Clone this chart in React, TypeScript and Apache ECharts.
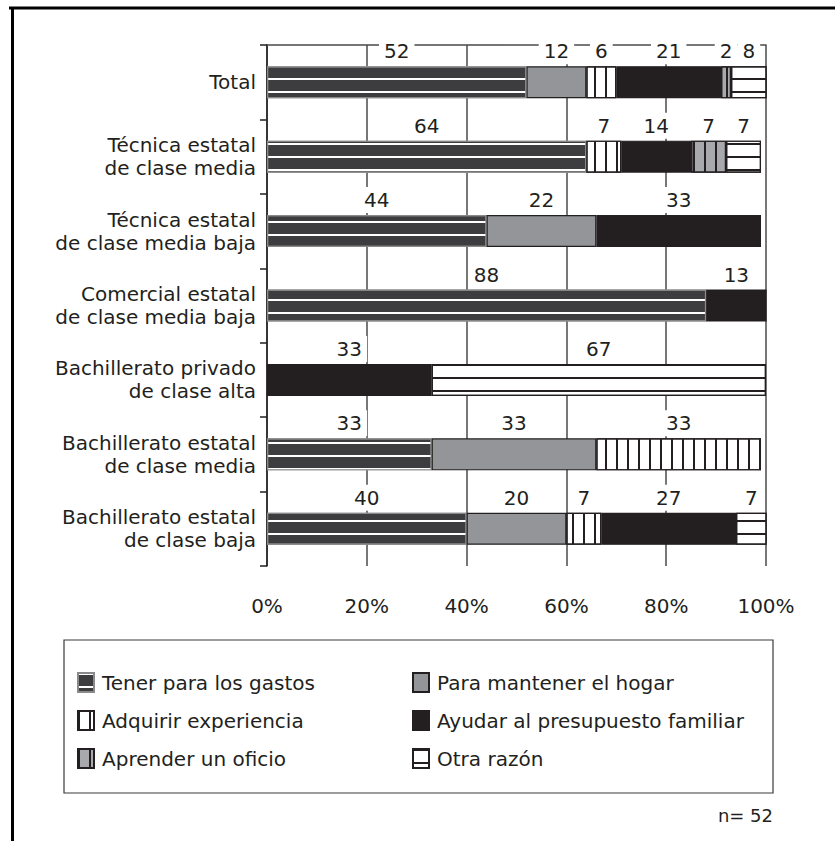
import React, { useEffect, useRef } from "react";
import * as echarts from "echarts";

// Categories (top to bottom)
const categories = [
  "Total",
  "Técnica estatal\nde clase media",
  "Técnica estatal\nde clase media baja",
  "Comercial estatal\nde clase media baja",
  "Bachillerato privado\nde clase alta",
  "Bachillerato estatal\nde clase media",
  "Bachillerato estatal\nde clase baja",
];

// Percentages per reason (null = not reported)
const tener = [52, 64, 44, 88, null, 33, 40];
const mantener = [12, null, 22, null, null, 33, 20];
const adquirir = [6, 7, null, null, null, 33, 7];
const ayudar = [21, 14, 33, 13, 33, null, 27];
const aprender = [2, 7, null, null, null, null, null];
const otra = [8, 7, null, null, 67, null, 7];

const seriesNames = [
  "Tener para los gastos",
  "Para mantener el hogar",
  "Adquirir experiencia",
  "Ayudar al presupuesto familiar",
  "Aprender un oficio",
  "Otra razón",
];

const xTicks = [0, 20, 40, 60, 80, 100];
const sampleSize = "n= 52";

const INK = "#231f20";
const FONT = "'DejaVu Sans', 'Liberation Sans', Arial, sans-serif";
const FS = 20;

const hLines = (color: string) => ({
  symbol: "rect",
  symbolSize: 1,
  dashArrayX: [10, 0],
  dashArrayY: [2, 11],
  color,
  rotation: 0,
});

const vLines = (color: string) => ({
  symbol: "rect",
  symbolSize: 1,
  dashArrayX: [2, 9],
  dashArrayY: [10, 0],
  color,
  rotation: 0,
});

const styles = [
  { color: "#3d3d3f", borderColor: "#8a8a8a", borderWidth: 1.2, decal: hLines("#ffffff") },
  { color: "#939598", borderColor: INK, borderWidth: 1.2 },
  { color: "#ffffff", borderColor: INK, borderWidth: 1.2, decal: vLines(INK) },
  { color: INK, borderColor: INK, borderWidth: 1.2 },
  { color: "#a7a9ac", borderColor: INK, borderWidth: 1.2, decal: vLines(INK) },
  { color: "#ffffff", borderColor: INK, borderWidth: 1.2, decal: hLines(INK) },
];

const values = [tener, mantener, adquirir, ayudar, aprender, otra];

const legendBase = {
  orient: "vertical",
  top: 672,
  padding: 0,
  icon: "rect",
  itemWidth: 16,
  itemHeight: 19,
  itemGap: 17,
  selectedMode: false,
  textStyle: { color: INK, fontSize: FS, fontFamily: FONT, padding: [0, 0, 0, 3] },
};

export default function App() {
  const ref = useRef<HTMLDivElement>(null);

  useEffect(() => {
    if (!ref.current) return;
    const chart = echarts.init(ref.current, null, { renderer: "svg" });

    const series = values.map((data, i) => ({
      name: seriesNames[i],
      type: "bar",
      stack: "total",
      barWidth: 32,
      data,
      itemStyle: styles[i],
      label: {
        show: true,
        position: "top",
        distance: 2,
        color: INK,
        fontFamily: FONT,
        fontSize: FS,
        lineHeight: 20,
        backgroundColor: "#ffffff",
        padding: [3, 5],
        formatter: (p: any) => String(p.value),
      },
    }));

    chart.setOption({
      animation: false,
      textStyle: { fontFamily: FONT },
      grid: { left: 267, right: 69, top: 45, bottom: 275, containLabel: false },
      xAxis: [
        {
          type: "value",
          min: 0,
          max: 100,
          interval: 20,
          axisLine: { show: false },
          axisTick: { show: false },
          splitLine: { show: true, lineStyle: { color: "#4a4a4a", width: 1.5 } },
          axisLabel: {
            margin: 30,
            color: INK,
            fontSize: FS,
            fontFamily: FONT,
            formatter: (v: number) => (xTicks.includes(v) ? v + "%" : ""),
          },
        },
        {
          type: "value",
          min: 0,
          max: 100,
          position: "top",
          axisLine: { show: true, lineStyle: { color: "#4a4a4a", width: 1.5 } },
          axisTick: { show: false },
          axisLabel: { show: false },
          splitLine: { show: false },
        },
      ],
      yAxis: {
        type: "category",
        inverse: true,
        data: categories,
        axisLine: { show: true, lineStyle: { color: INK, width: 1.5 } },
        axisTick: { show: true, length: 7, lineStyle: { color: INK, width: 1.5 } },
        axisLabel: {
          color: INK,
          fontSize: FS,
          lineHeight: 23,
          fontFamily: FONT,
          margin: 11,
          align: "right",
        },
      },
      legend: [
        { ...legendBase, left: 77, data: [seriesNames[0], seriesNames[2], seriesNames[4]] },
        { ...legendBase, left: 412, data: [seriesNames[1], seriesNames[3], seriesNames[5]] },
      ],
      graphic: [
        {
          type: "line",
          shape: { x1: 9, y1: 8, x2: 835, y2: 8 },
          style: { stroke: "#000", lineWidth: 3 },
        },
        {
          type: "line",
          shape: { x1: 12.5, y1: 7, x2: 12.5, y2: 841 },
          style: { stroke: "#000", lineWidth: 3 },
        },
        {
          type: "rect",
          shape: { x: 64, y: 640, width: 709, height: 153 },
          style: { fill: "none", stroke: "#3a3a3a", lineWidth: 1.2 },
        },
        {
          type: "text",
          right: 62,
          top: 806,
          style: { text: sampleSize, fill: INK, fontSize: 18, fontFamily: FONT },
        },
      ],
      series,
    });

    return () => chart.dispose();
  }, []);

  return (
    <div
      ref={ref}
      style={{ position: "absolute", left: 0, top: 0, width: 835, height: 841, background: "#fff" }}
    />
  );
}
